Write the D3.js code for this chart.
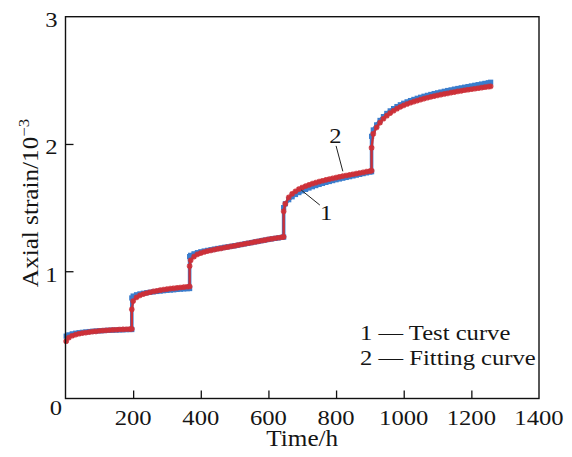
<!DOCTYPE html>
<html>
<head>
<meta charset="utf-8">
<script src="https://cdn.jsdelivr.net/npm/d3@7"></script>
<style>
  html, body { margin: 0; padding: 0; background: #fff; }
  svg { display: block; }
  text { font-family: "Liberation Serif", "Times New Roman", serif; fill: #151515; }
</style>
</head>
<body>
<svg id="chart" width="572" height="457"></svg>
<script>
// Creep test: axial strain (×10⁻³) against time under stepped loading
const hours = [
  2,10,20,30,40,50,60,70,80,90,100,110,120,130,140,150,160,170,180,190,196,
  196,200,210,220,230,240,250,260,270,280,290,300,310,320,330,340,350,360,367,
  367,370,380,390,400,410,420,430,440,450,460,470,480,490,500,510,520,530,540,550,560,570,580,590,600,610,620,630,640,645,
  645,650,660,670,680,690,700,710,720,730,740,750,760,770,780,790,800,810,820,830,840,850,860,870,880,890,900,905,
  905,910,920,930,940,950,960,970,980,990,1000,1010,1020,1030,1040,1050,1060,1070,1080,1090,1100,1110,1120,1130,1140,1150,1160,1170,1180,1190,1200,1210,1220,1230,1240,1250,1257
];

// 1 — test curve
const testStrain = [
  0.490,0.500,0.508,0.513,0.517,0.520,0.523,0.526,0.528,0.530,0.532,0.533,0.535,0.536,0.537,0.538,0.539,0.540,0.541,0.542,0.542,
  0.790,0.805,0.815,0.822,0.827,0.831,0.835,0.838,0.841,0.844,0.847,0.850,0.852,0.854,0.857,0.859,0.861,0.863,0.864,
  1.115,1.125,1.137,1.146,1.153,1.159,1.164,1.169,1.174,1.179,1.183,1.188,1.192,1.196,1.200,1.205,1.210,1.215,1.220,1.225,1.230,1.235,1.240,1.245,1.250,1.254,1.258,1.262,1.266,1.268,
  1.500,1.530,1.562,1.585,1.603,1.618,1.631,1.643,1.654,1.664,1.673,1.682,1.690,1.698,1.705,1.712,1.719,1.725,1.731,1.737,1.743,1.749,1.755,1.761,1.767,1.773,1.779,1.782,
  2.060,2.110,2.150,2.185,2.215,2.240,2.260,2.278,2.294,2.308,2.320,2.331,2.341,2.350,2.359,2.367,2.375,2.382,2.389,2.396,2.402,2.408,2.414,2.420,2.425,2.431,2.436,2.441,2.446,2.451,2.456,2.461,2.466,2.471,2.476,2.481,2.485
];

// 2 — fitting curve
const fitStrain = [
  0.450,0.478,0.493,0.502,0.509,0.514,0.518,0.522,0.525,0.528,0.531,0.533,0.535,0.537,0.539,0.540,0.542,0.543,0.544,0.545,0.546,
  0.700,0.765,0.795,0.810,0.820,0.828,0.835,0.841,0.846,0.851,0.855,0.859,0.863,0.866,0.869,0.872,0.875,0.878,0.880,
  1.040,1.085,1.115,1.132,1.143,1.151,1.158,1.164,1.170,1.175,1.180,1.185,1.190,1.195,1.200,1.205,1.210,1.215,1.220,1.225,1.230,1.235,1.240,1.245,1.250,1.255,1.259,1.263,1.267,1.270,
  1.470,1.530,1.580,1.608,1.628,1.645,1.658,1.669,1.679,1.688,1.696,1.704,1.711,1.718,1.724,1.730,1.736,1.742,1.747,1.752,1.757,1.762,1.767,1.772,1.777,1.782,1.787,1.790,
  1.970,2.080,2.130,2.168,2.198,2.222,2.243,2.261,2.277,2.291,2.303,2.314,2.324,2.333,2.341,2.349,2.356,2.363,2.370,2.376,2.382,2.388,2.393,2.398,2.403,2.408,2.413,2.417,2.422,2.426,2.430,2.434,2.438,2.442,2.446,2.450,2.453
];

const xTicks = [200, 400, 600, 800, 1000, 1200, 1400];
const yTicks = [1, 2, 3];
const legendLines = ["1 \u2014 Test curve", "2 \u2014 Fitting curve"];

// curve callouts in data units: label position and leader-line ends
const callouts = [
  { label: "2", at: [798, 2.07], from: [800, 1.985], to: [820, 1.785] },
  { label: "1", at: [771, 1.465], from: [752, 1.52], to: [697, 1.638] }
];

const svg = d3.select("#chart");
const x = d3.scaleLinear().domain([0, 1400]).range([65.5, 539]);
const y = d3.scaleLinear().domain([0, 3]).range([398.5, 16.7]);

const blue = "#3a7dcd";
const red = "#cc3038";
const stretch = 1.12;   // wide serif face

function label(sel, tx, ty, txt, size, anchor, rotate) {
  const g = sel.append("g")
    .attr("transform", `translate(${tx},${ty})` + (rotate ? ` rotate(${rotate})` : "") + ` scale(${stretch},1)`);
  return g.append("text").attr("text-anchor", anchor || "middle")
    .attr("font-size", size).text(txt);
}

// series
const pts = hours.map((h, i) => ({ h, t: testStrain[i], f: fitStrain[i] }));

const lineT = d3.line().x(d => x(d.h)).y(d => y(d.t));
const lineF = d3.line().x(d => x(d.h)).y(d => y(d.f));

// test curve: dense square markers forming a band
svg.append("path").datum(pts).attr("d", lineT)
  .attr("fill", "none").attr("stroke", blue).attr("stroke-width", 3.6);
svg.append("g").selectAll("rect").data(pts).join("rect")
  .attr("x", d => x(d.h) - 2.6).attr("y", d => y(d.t) - 2.6)
  .attr("width", 5.2).attr("height", 5.2).attr("fill", blue);

// fitting curve: line with plus/cross markers
svg.append("path").datum(pts).attr("d", lineF)
  .attr("fill", "none").attr("stroke", red).attr("stroke-width", 2.4);
const plus = d3.symbol().type(d3.symbolCross).size(18);
svg.append("g").selectAll("path").data(pts).join("path")
  .attr("transform", d => `translate(${x(d.h)},${y(d.f)}) rotate(45)`)
  .attr("d", plus).attr("fill", red);
svg.append("g").selectAll("path").data(pts).join("path")
  .attr("transform", d => `translate(${x(d.h)},${y(d.f)})`)
  .attr("d", plus).attr("fill", red).attr("opacity", 0.85);

// frame
svg.append("rect")
  .attr("x", x(0)).attr("y", y(3))
  .attr("width", x(1400) - x(0)).attr("height", y(0) - y(3))
  .attr("fill", "none").attr("stroke", "#111").attr("stroke-width", 1.4);

// inward ticks
svg.append("g").attr("transform", `translate(0,${y(0)})`)
  .call(d3.axisBottom(x).tickValues(xTicks.slice(0, -1)).tickSizeInner(-8).tickSizeOuter(0).tickFormat(""))
  .call(g => g.select(".domain").remove())
  .call(g => g.selectAll("line").attr("stroke", "#111").attr("stroke-width", 1.3));
svg.append("g").attr("transform", `translate(${x(0)},0)`)
  .call(d3.axisLeft(y).tickValues(yTicks.slice(0, -1)).tickSizeInner(-8).tickSizeOuter(0).tickFormat(""))
  .call(g => g.select(".domain").remove())
  .call(g => g.selectAll("line").attr("stroke", "#111").attr("stroke-width", 1.3));

// tick labels
xTicks.forEach(v => label(svg, x(v), y(0) + 26, String(v), 22, "middle"));
yTicks.forEach(v => label(svg, x(0) - 8, y(v) + 10.5, String(v), 22, "end"));
label(svg, x(0) - 9.5, y(0) + 16, "0", 22, "middle");

// axis titles
label(svg, (x(0) + x(1400)) / 2, 446, "Time/h", 22.5, "middle");
const yt = label(svg, 37.5, 203, "", 22.5, "middle", -90);
yt.append("tspan").text("Axial strain/10");
yt.append("tspan").attr("font-size", 15).attr("dy", -9).text("\u22123");

// callouts
callouts.forEach(c => {
  svg.append("line")
    .attr("x1", x(c.from[0])).attr("y1", y(c.from[1]))
    .attr("x2", x(c.to[0])).attr("y2", y(c.to[1]))
    .attr("stroke", "#222").attr("stroke-width", 1);
  label(svg, x(c.at[0]), y(c.at[1]) + 7.5, c.label, 22, "middle");
});

// legend
legendLines.forEach((s, i) => label(svg, 360, 339.5 + i * 25, s, 22, "start"));
</script>
</body>
</html>
